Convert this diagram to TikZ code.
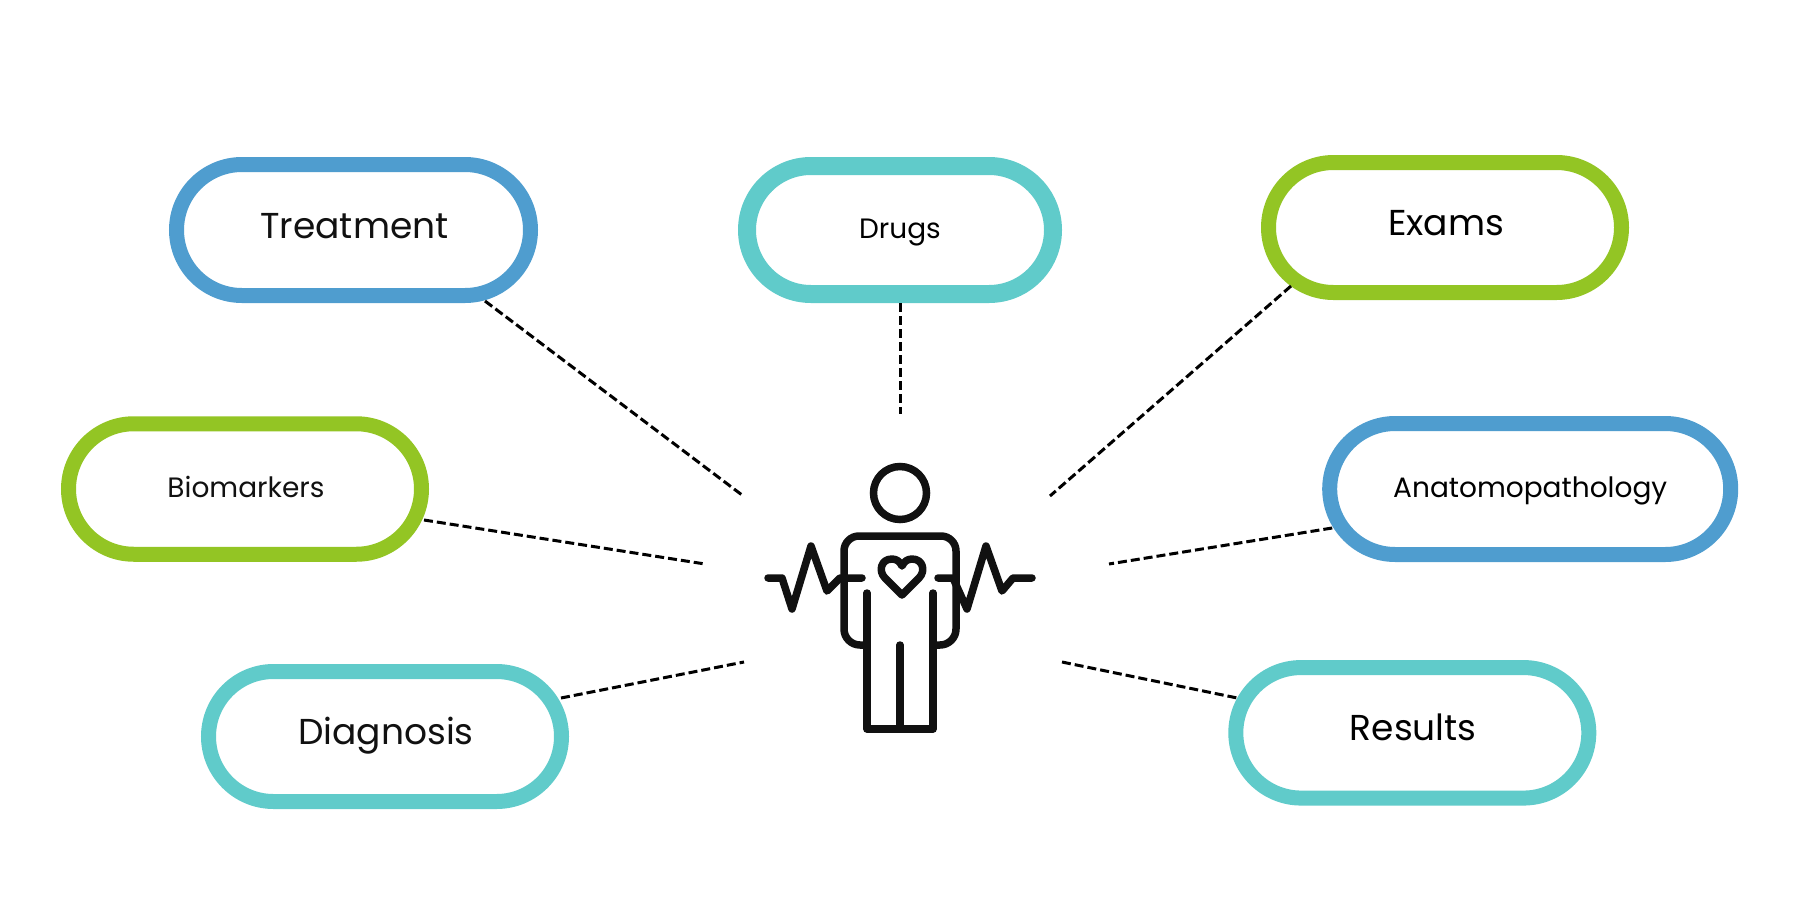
\documentclass[tikz,border=0pt]{standalone}
\usepackage{fontspec}
\setmainfont{Poppins}
\definecolor{cblue}{HTML}{4F9DCF}
\definecolor{cteal}{HTML}{60CBCA}
\definecolor{cgreen}{HTML}{93C524}
\definecolor{cink}{HTML}{111111}
\tikzset{
  pill/.style={rounded rectangle,draw=#1,line width=15pt,fill=white,text=cink,inner sep=0pt,anchor=center,text height=25pt,text depth=9pt},
  big/.style={font=\fontsize{36}{40}\selectfont,execute at begin node=\hspace*{2pt}},
  small/.style={font=\fontsize{28}{30}\selectfont},
  link/.style={dash pattern=on 9pt off 4pt,line width=3pt,draw=black},
  figline/.style={draw=cink,line width=7.5pt,line cap=round,line join=round}
}
\usetikzlibrary{shapes.misc}
\begin{document}
\begin{tikzpicture}[x=1pt,y=-1pt]
\useasboundingbox (0,0) rectangle (1800,900);
\node[pill=cblue,big,minimum width=354pt,minimum height=131pt] (tr) at (353.5,230) {Treatment};
\node[pill=cteal,small,line width=18pt,text=black,minimum width=306pt,minimum height=128pt] (dr) at (900,230) {Drugs};
\node[pill=cgreen,big,text=black,minimum width=353pt,minimum height=130pt] (ex) at (1445,227.5) {Exams};
\node[pill=cgreen,small,minimum width=353pt,minimum height=130.5pt] (bi) at (245,489) {\hspace*{2pt}Biomarkers};
\node[pill=cblue,small,text=black,minimum width=401pt,minimum height=131pt] (an) at (1530.2,489) {Anatomopathology};
\node[pill=cteal,big,minimum width=353pt,minimum height=130pt] (di) at (385,736.5) {Diagnosis};
\node[pill=cteal,big,text=black,minimum width=353pt,minimum height=130.5pt] (re) at (1412.3,732.8) {Results};
\coordinate (ptr) at (742,495);
\coordinate (pdr) at (900,414);
\coordinate (pex) at (1050,496);
\coordinate (pbi) at (705,564);
\coordinate (pan) at (1109,564);
\coordinate (pdi) at (744,662);
\coordinate (pre) at (1062,662);
\draw[link] ([shift={(131.5,71)}]tr.center) -- (ptr);
\draw[link] (dr.south) -- (pdr);
\draw[link] ([shift={(-154,58.5)}]ex.center) -- (pex);
\draw[link] ([shift={(179,31)}]bi.center) -- (pbi);
\draw[link] ([shift={(-198,39)}]an.center) -- (pan);
\draw[link] ([shift={(176,-38.5)}]di.center) -- (pdi);
\draw[link] ([shift={(-176,-35)}]re.center) -- (pre);
% figure
\node[circle,draw=cink,line width=7.5pt,minimum size=53pt,inner sep=0pt] (head) at (900,493) {};
\draw[figline] (867,645) -- (860,645) arc[start angle=90,end angle=180,radius=16] -- (844,551) arc[start angle=180,end angle=270,radius=15] -- (941,536) arc[start angle=270,end angle=360,radius=15] -- (956,629) arc[start angle=0,end angle=90,radius=16] -- (933,645);
\draw[figline] (867,593) -- (867,729) -- (933,729) -- (933,593);
\draw[figline] (900,645) -- (900,729);
\draw[figline] (902,595) -- (885,578) .. controls (878,571) and (881,559) .. (892,559) .. controls (897,559) and (900,562) .. (902,566) .. controls (904,562) and (907,559) .. (912,559) .. controls (923,559) and (926,571) .. (919,578) -- cycle;
\draw[figline] (768,578) -- (782,578) -- (792,609) -- (811,546) -- (827,591) -- (840,578) -- (862,578);
\draw[figline] (938,578) -- (953,578) -- (967,609) -- (986,546) -- (1002,591) -- (1013,578) -- (1032,578);
\end{tikzpicture}
\end{document}
